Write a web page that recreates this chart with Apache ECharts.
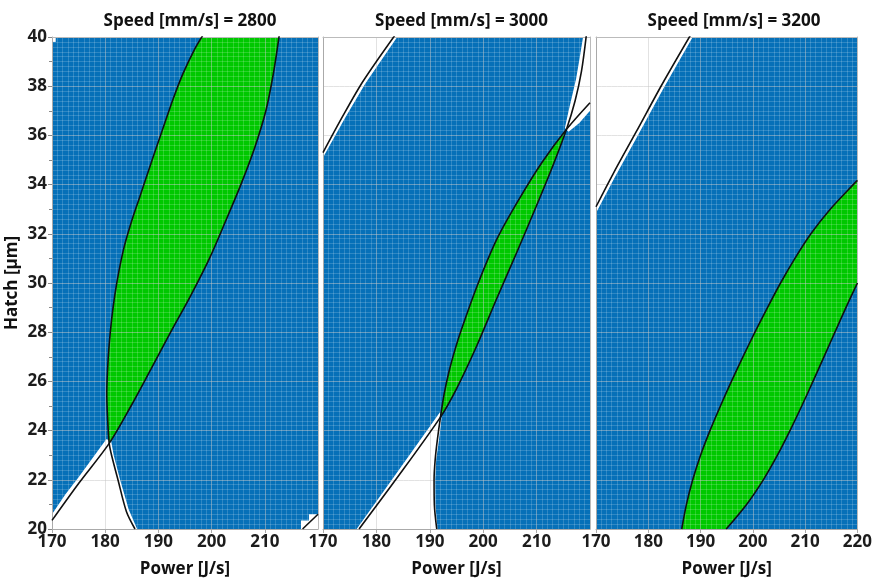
<!DOCTYPE html>
<html><head><meta charset="utf-8">
<script src="https://cdn.jsdelivr.net/npm/echarts@6/dist/echarts.min.js"></script>
<style>html,body{margin:0;padding:0;background:#fff}#c{width:875px;height:583px}</style>
</head><body><div id="c"></div>
<script>
// ---------- data ----------
const speeds = [2800, 3000, 3200];
const powerRange = [170, 220], powerStep = 10, powerCell = 1;
const hatchRange = [20, 40], hatchStep = 2, hatchCell = 0.2;

// Panel 1 (2800 mm/s)
const p1EdgeLeft = [[180.75,23.48],[180.45,24.5],[180.3,25.5],[180.45,26.5],[180.75,27.5],[181.2,28.5],[181.8,29.5],[182.6,30.5],[183.6,31.5],[184.95,32.5],[186.5,33.5],[188.05,34.5],[189.6,35.5],[191.2,36.5],[192.8,37.5],[194.6,38.5],[196.8,39.5],[198.3,40.05]];
const p1EdgeRight = [[180.75,23.48],[184.85,25],[188.6,26.5],[192.3,28],[196.1,29.5],[199.6,31],[202.6,32.5],[205.5,34],[208.1,35.5],[210.2,37],[211.6,38.5],[212.7,40.05]];
const p1TailLeft = [[185.6,20],[184.0,20.7],[182.4,22.0],[181.2,23.0],[180.75,23.48]];
const p1TailRight = [[170,20.35],[175,21.85],[180.75,23.48]];
const p1CornerCurve = [[217.1,20],[220,20.6]];
const p1WhiteLow = [[170,20],[170,20.6],[172.5,21.4],[175,22.1],[177.5,22.85],[180.2,23.65],[181.1,23.6],[181.6,23.0],[182.8,22.0],[184.4,20.8],[186,20]];
const p1WhiteCorner = [[216.8,20],[216.8,20.35],[218.3,20.35],[218.3,20.6],[220,20.6],[220,20]];
const p1WhiteCell = [[170,39.8],[170.7,39.8],[170.7,40],[170,40]];

// Panel 2 (3000 mm/s)
const p2EdgeA = [[192.0,24.55],[192.7,25.5],[193.6,26.4],[194.6,27.2],[195.75,28.0],[198.9,29.9],[202.6,31.8],[206.7,33.4],[211.0,34.9],[215.6,36.25]];
const p2EdgeB = [[192.0,24.55],[195.0,25.7],[198.8,27.45],[202.5,29.35],[206.3,31.25],[209.9,33.1],[213.1,34.8],[215.6,36.25]];
const p2TailALow = [[191.3,20],[190.85,21],[190.8,22.0],[191.0,22.8],[191.4,23.6],[192.0,24.55]];
const p2TailAHigh = [[215.6,36.25],[220,37.33]];
const p2TailBLow = [[176.75,20],[183.6,22.0],[192.0,24.55]];
const p2TailBHigh = [[215.6,36.25],[217.2,37.4],[218.4,38.6],[219.3,40.05]];
const p2CurveC = [[170,35.3],[173.75,36.8],[177.5,38.2],[183.4,40.05]];
const p2WhiteTopLeft = [[170,40],[170,35.1],[174.1,36.7],[177.9,38.1],[183.9,40]];
const p2WhiteLow = [[176.3,20],[183.4,22.15],[191.9,24.75],[192.2,24.5],[191.7,23.6],[191.2,22.8],[191.0,22.0],[191.05,21],[191.45,20]];
const p2WhiteTopRight = [[215.3,36.3],[216.0,37.0],[217.4,38.3],[218.1,39.2],[218.7,40],[220,40],[220,37.0],[218,36.5],[216,36.15]];

// Panel 3 (3200 mm/s)
const p3CurveD = [[170,33.1],[173.3,34.45],[177.7,36.15],[182.7,38.1],[188,40.05]];
const p3EdgeLeft = [[186.4,20],[187.3,21],[188.5,22],[190.0,23],[191.8,24],[193.8,25],[195.9,26],[198.1,27],[200.4,28],[202.8,29],[205.3,30],[208.05,31],[211.1,32],[214.8,33],[219.2,34],[220,34.17]];
const p3EdgeRight = [[194.9,20],[198.8,21],[202.0,22],[204.7,23],[207.1,24],[209.35,25],[211.5,26],[213.6,27],[215.7,28],[217.8,29],[220,30]];
const p3WhiteTopLeft = [[170,40],[170,32.85],[173.6,34.3],[178,36.0],[183,37.95],[188.5,40]];

// ---------- chart ----------
const FONT = 'Open Sans';
const BLUE = '#0670b8', GREEN = '#00c800', WHITE = '#ffffff', INK = '#111';
const grids = [
  {left: 52, top: 37, width: 266, height: 493},
  {left: 323, top: 37, width: 267, height: 493},
  {left: 596, top: 37, width: 266, height: 493}
];
const xAxes = [], yAxes = [], series = [], titles = [];
grids.forEach((g, i) => {
  g.show = true; g.backgroundColor = BLUE; g.borderWidth = 0;
  titles.push({text: 'Speed [mm/s] = ' + speeds[i], left: g.left + g.width / 2, top: 8, textAlign: 'center',
    textStyle: {fontSize: 17, fontWeight: 'bold', color: INK, fontFamily: FONT}});
  xAxes.push({gridIndex: i, type: 'value', min: powerRange[0], max: powerRange[1], interval: powerStep, position: 'bottom', z: 3,
    axisLine: {show: true, lineStyle: {color: '#aaa'}},
    axisTick: {show: true, length: 4, lineStyle: {color: '#aaa'}},
    axisLabel: {show: true, showMaxLabel: i === 2, showMinLabel: true, color: '#1c1c1c', fontSize: 17, fontWeight: 'bold', fontFamily: FONT, margin: 5},
    splitLine: {show: true, lineStyle: {color: 'rgba(170,170,170,0.4)', width: 1}},
    name: 'Power [J/s]', nameLocation: 'middle', nameGap: 32,
    nameTextStyle: {fontSize: 17, fontWeight: 'bold', color: INK, fontFamily: FONT}});
  xAxes.push({gridIndex: i, type: 'value', min: powerRange[0], max: powerRange[1], interval: powerCell, position: 'top', z: 3,
    axisLine: {show: true, lineStyle: {color: '#bbb'}}, axisTick: {show: false}, axisLabel: {show: false},
    splitLine: {show: true, lineStyle: {color: 'rgba(255,255,255,0.17)', width: 1}}});
  yAxes.push({gridIndex: i, type: 'value', min: hatchRange[0], max: hatchRange[1], interval: hatchStep, position: 'left', z: 3,
    axisLine: {show: true, lineStyle: {color: '#aaa'}},
    axisTick: {show: i === 0, length: 4, lineStyle: {color: '#888'}},
    minorTick: {show: i === 0, splitNumber: 2, length: 3, lineStyle: {color: '#888'}},
    axisLabel: {show: i === 0, color: '#1c1c1c', fontSize: 17, fontWeight: 'bold', fontFamily: FONT, margin: 5},
    splitLine: {show: true, lineStyle: {color: 'rgba(170,170,170,0.4)', width: 1}},
    name: i === 0 ? 'Hatch [µm]' : '', nameLocation: 'middle', nameGap: 31,
    nameTextStyle: {fontSize: 17, fontWeight: 'bold', color: INK, fontFamily: FONT}});
  yAxes.push({gridIndex: i, type: 'value', min: hatchRange[0], max: hatchRange[1], interval: hatchCell, position: 'right', z: 3,
    axisLine: {show: true, lineStyle: {color: '#bbb'}}, axisTick: {show: false}, axisLabel: {show: false},
    splitLine: {show: true, lineStyle: {color: 'rgba(255,255,255,0.17)', width: 1}}});
});

function area(panel, pts, color) {
  series.push({type: 'custom', xAxisIndex: panel * 2, yAxisIndex: panel * 2, data: [[pts[0][0], pts[0][1]]],
    clip: true, silent: true, z: 2, animation: false,
    renderItem: (params, api) => ({type: 'polygon', shape: {points: pts.map(p => api.coord(p))}, style: {fill: color}})});
}
function curve(panel, pts) {
  series.push({type: 'line', xAxisIndex: panel * 2, yAxisIndex: panel * 2, data: pts, showSymbol: false,
    smooth: 0.3, clip: true, silent: true, z: 5, animation: false,
    lineStyle: {color: INK, width: 1.6}});
}
const rev = a => a.slice().reverse();

// panel 1
area(0, p1WhiteLow, WHITE); area(0, p1WhiteCorner, WHITE); area(0, p1WhiteCell, WHITE);
area(0, p1EdgeLeft.concat(rev(p1EdgeRight)), GREEN);
curve(0, p1TailLeft.concat(p1EdgeLeft.slice(1)));
curve(0, p1TailRight.concat(p1EdgeRight.slice(1)));
curve(0, p1CornerCurve);
// panel 2
area(1, p2WhiteTopLeft, WHITE); area(1, p2WhiteLow, WHITE); area(1, p2WhiteTopRight, WHITE);
area(1, p2EdgeA.concat(rev(p2EdgeB)), GREEN);
curve(1, p2TailALow.concat(p2EdgeA.slice(1), p2TailAHigh.slice(1)));
curve(1, p2TailBLow.concat(p2EdgeB.slice(1), p2TailBHigh.slice(1)));
curve(1, p2CurveC);
// panel 3
area(2, p3WhiteTopLeft, WHITE);
area(2, p3EdgeLeft.concat(rev(p3EdgeRight)), GREEN);
curve(2, p3CurveD); curve(2, p3EdgeLeft); curve(2, p3EdgeRight);

const chart = echarts.init(document.getElementById('c'), null, {renderer: 'canvas'});
chart.setOption({animation: false, backgroundColor: '#fff', title: titles, grid: grids, xAxis: xAxes, yAxis: yAxes, series: series});
</script></body></html>
